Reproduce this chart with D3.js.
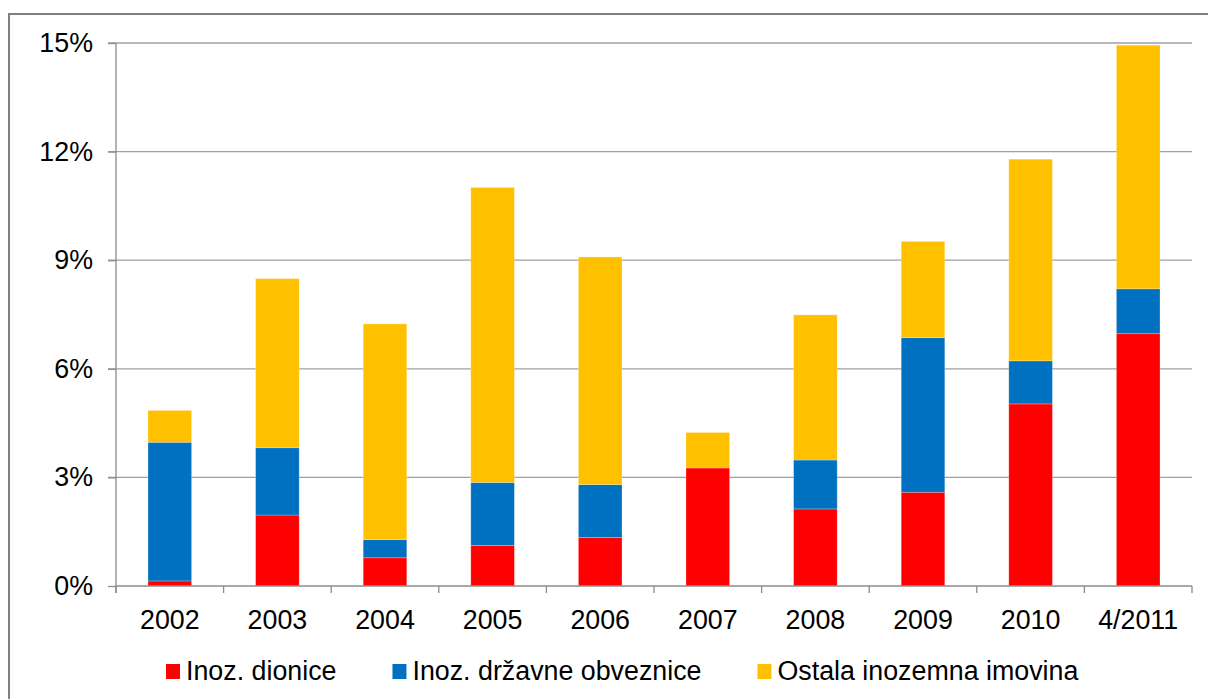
<!DOCTYPE html>
<html>
<head>
<meta charset="utf-8">
<script src="https://cdn.jsdelivr.net/npm/d3@7"></script>
<style>
  html, body { margin: 0; padding: 0; background: #fff; }
  svg { display: block; }
  text { font-family: "Liberation Sans", Arial, sans-serif; fill: #000; }
</style>
</head>
<body>
<svg id="chart" width="1208" height="699"></svg>
<script>
// ---- Data (percent) ----
const categories = ["2002", "2003", "2004", "2005", "2006", "2007", "2008", "2009", "2010", "4/2011"];
const seriesNames = ["Inoz. dionice", "Inoz. državne obveznice", "Ostala inozemna imovina"];
const dionice    = [0.14, 1.96, 0.78, 1.12, 1.34, 3.26, 2.13, 2.59, 5.03, 6.97];
const obveznice  = [3.83, 1.86, 0.50, 1.74, 1.46, 0.00, 1.35, 4.27, 1.19, 1.24];
const ostala     = [0.88, 4.67, 5.96, 8.15, 6.29, 0.98, 4.01, 2.66, 5.57, 6.73];
const yTicks = [0, 3, 6, 9, 12, 15];
const colors = ["#FF0000", "#0070C0", "#FFC000"];

const rows = categories.map((c, i) => ({ cat: c, s0: dionice[i], s1: obveznice[i], s2: ostala[i] }));
const keys = ["s0", "s1", "s2"];

const svg = d3.select("#chart");
const W = 1208, H = 699;
const plot = { left: 116, right: 1192, top: 43, bottom: 586 };
const FS = 26.8;

// outer frame
svg.append("rect")
  .attr("x", 9).attr("y", 14)
  .attr("width", W + 20).attr("height", H + 20)
  .attr("fill", "#fff").attr("stroke", "#808080").attr("stroke-width", 2);

const x = d3.scaleBand().domain(categories).range([plot.left, plot.right]).padding(0);
const y = d3.scaleLinear().domain([0, 15]).range([plot.bottom, plot.top]);

// gridlines
svg.append("g").selectAll("line").data(yTicks.filter(d => d > 0)).join("line")
  .attr("x1", plot.left - 8).attr("x2", plot.right)
  .attr("y1", d => y(d)).attr("y2", d => y(d))
  .attr("stroke", "#a0a0a0").attr("stroke-width", 1.3);

// y axis
const yAxis = d3.axisLeft(y).tickValues(yTicks).tickFormat(d => d + "%").tickSize(8).tickPadding(15);
const gy = svg.append("g").attr("transform", `translate(${plot.left},0)`).call(yAxis);
gy.select(".domain").attr("stroke", "#8c8c8c").attr("stroke-width", 1.3).attr("d", `M0,${plot.top}V${plot.bottom + 7}`);
gy.selectAll(".tick line").attr("stroke", "#8c8c8c").attr("stroke-width", 1.3);
gy.selectAll(".tick text").style("font-size", FS + "px").style("font-family", "Liberation Sans, Arial, sans-serif").attr("fill", "#000");

// bars
const stack = d3.stack().keys(keys);
const stacked = stack(rows);
const barW = x.bandwidth() * 0.405;
svg.append("g").selectAll("g").data(stacked).join("g")
  .attr("fill", (d, i) => colors[i])
  .selectAll("rect").data(d => d.filter(s => s[1] - s[0] > 0)).join("rect")
  .attr("x", d => x(d.data.cat) + (x.bandwidth() - barW) / 2)
  .attr("width", barW)
  .attr("y", d => y(d[1]))
  .attr("height", d => Math.max(0, y(d[0]) - y(d[1])))
  .attr("stroke", "rgba(255,255,255,0.3)").attr("stroke-width", 0.8);

// x axis
const gx = svg.append("g").attr("transform", `translate(0,${plot.bottom})`);
gx.append("line").attr("x1", plot.left).attr("x2", plot.right).attr("y1", 0).attr("y2", 0)
  .attr("stroke", "#8c8c8c").attr("stroke-width", 1.3);
const boundaries = categories.map(c => x(c)).concat([x(categories[categories.length - 1]) + x.bandwidth()]);
gx.selectAll("line.tk").data(boundaries).join("line").attr("class", "tk")
  .attr("x1", d => d).attr("x2", d => d).attr("y1", 0).attr("y2", 7)
  .attr("stroke", "#8c8c8c").attr("stroke-width", 1.3);
gx.selectAll("text").data(categories).join("text")
  .attr("x", d => x(d) + x.bandwidth() / 2)
  .attr("y", 43)
  .attr("text-anchor", "middle")
  .style("font-size", FS + "px")
  .text(d => d);

// legend
const lg = svg.append("g");
let lx = 166;
seriesNames.forEach((name, i) => {
  lg.append("rect").attr("x", lx).attr("y", 664).attr("width", 14).attr("height", 15).attr("fill", colors[i]);
  const t = lg.append("text").attr("x", lx + 20).attr("y", 680).style("font-size", FS + "px").text(name);
  const w = t.node().getComputedTextLength();
  lx = lx + 20 + w + 56;
});
</script>
</body>
</html>
